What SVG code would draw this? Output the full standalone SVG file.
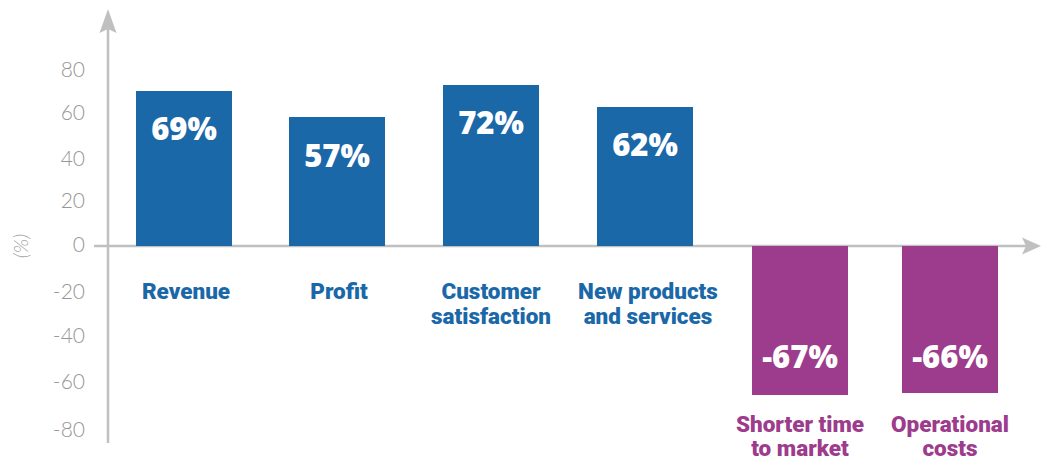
<svg xmlns="http://www.w3.org/2000/svg" width="1042" height="459" viewBox="0 0 1042 459">
  <style>
    .axis { stroke: #c0c0c0; stroke-width: 2.5; fill: none; }
    .arrow { fill: #c0c0c0; }
    .tick { font-family: Lato, "Open Sans", sans-serif; font-weight: 300; font-size: 21px; fill: #969696; text-anchor: end; }
    .unit { font-family: Lato, "Open Sans", sans-serif; font-weight: 300; font-style: italic; font-size: 20px; fill: #a6a6a6; text-anchor: middle; }
    .pos { fill: #1b68a9; }
    .neg { fill: #9d3b8d; }
    .val { font-family: "Open Sans", sans-serif; font-weight: 800; font-size: 31px; fill: #ffffff; text-anchor: middle; }
    .cat { font-family: Roboto, "Liberation Sans", sans-serif; font-weight: 900; font-size: 22.5px; text-anchor: middle; }
    .catpos { fill: #1b68a9; }
    .catneg { fill: #9d3b8d; }
  </style>

  <g id="connectors">
    <line class="axis" x1="108" y1="24" x2="108" y2="443"/>
    <path class="arrow" d="M108,9 L116.5,33 L108,29 L99.5,33 Z"/>
    <line class="axis" x1="94" y1="246" x2="1030" y2="246"/>
    <path class="arrow" d="M1041,246 L1022,237.5 L1026,246 L1022,254.5 Z"/>
  </g>

  <g id="y-axis-labels">
    <text class="tick" x="85" y="77">80</text>
    <text class="tick" x="85" y="120">60</text>
    <text class="tick" x="85" y="166">40</text>
    <text class="tick" x="85" y="208">20</text>
    <text class="tick" x="85" y="252">0</text>
    <text class="tick" x="85" y="299">-20</text>
    <text class="tick" x="85" y="343">-40</text>
    <text class="tick" x="85" y="389">-60</text>
    <text class="tick" x="85" y="437">-80</text>
    <text class="unit" transform="translate(28,246) rotate(-90)">(%)</text>
  </g>

  <g id="revenue">
    <rect class="pos" x="136" y="91" width="96" height="155"/>
    <text class="val" x="184" y="140">69%</text>
    <text class="cat catpos" x="186" y="299">Revenue</text>
  </g>

  <g id="profit">
    <rect class="pos" x="289" y="117" width="96" height="129"/>
    <text class="val" x="337" y="167">57%</text>
    <text class="cat catpos" x="339" y="299">Profit</text>
  </g>

  <g id="customer-satisfaction">
    <rect class="pos" x="443" y="85" width="96" height="161"/>
    <text class="val" x="491" y="134">72%</text>
    <text class="cat catpos" x="491" y="299">Customer</text>
    <text class="cat catpos" x="491" y="324">satisfaction</text>
  </g>

  <g id="new-products">
    <rect class="pos" x="597" y="107" width="96" height="139"/>
    <text class="val" x="645" y="156">62%</text>
    <text class="cat catpos" x="648" y="299">New products</text>
    <text class="cat catpos" x="648" y="324">and services</text>
  </g>

  <g id="shorter-time">
    <rect class="neg" x="752" y="246" width="96" height="149"/>
    <text class="val" x="800" y="368">-67%</text>
    <text class="cat catneg" x="800" y="432">Shorter time</text>
    <text class="cat catneg" x="800" y="456">to market</text>
  </g>

  <g id="operational-costs">
    <rect class="neg" x="902" y="246" width="96" height="147"/>
    <text class="val" x="950" y="368">-66%</text>
    <text class="cat catneg" x="950" y="432">Operational</text>
    <text class="cat catneg" x="950" y="456">costs</text>
  </g>
</svg>
